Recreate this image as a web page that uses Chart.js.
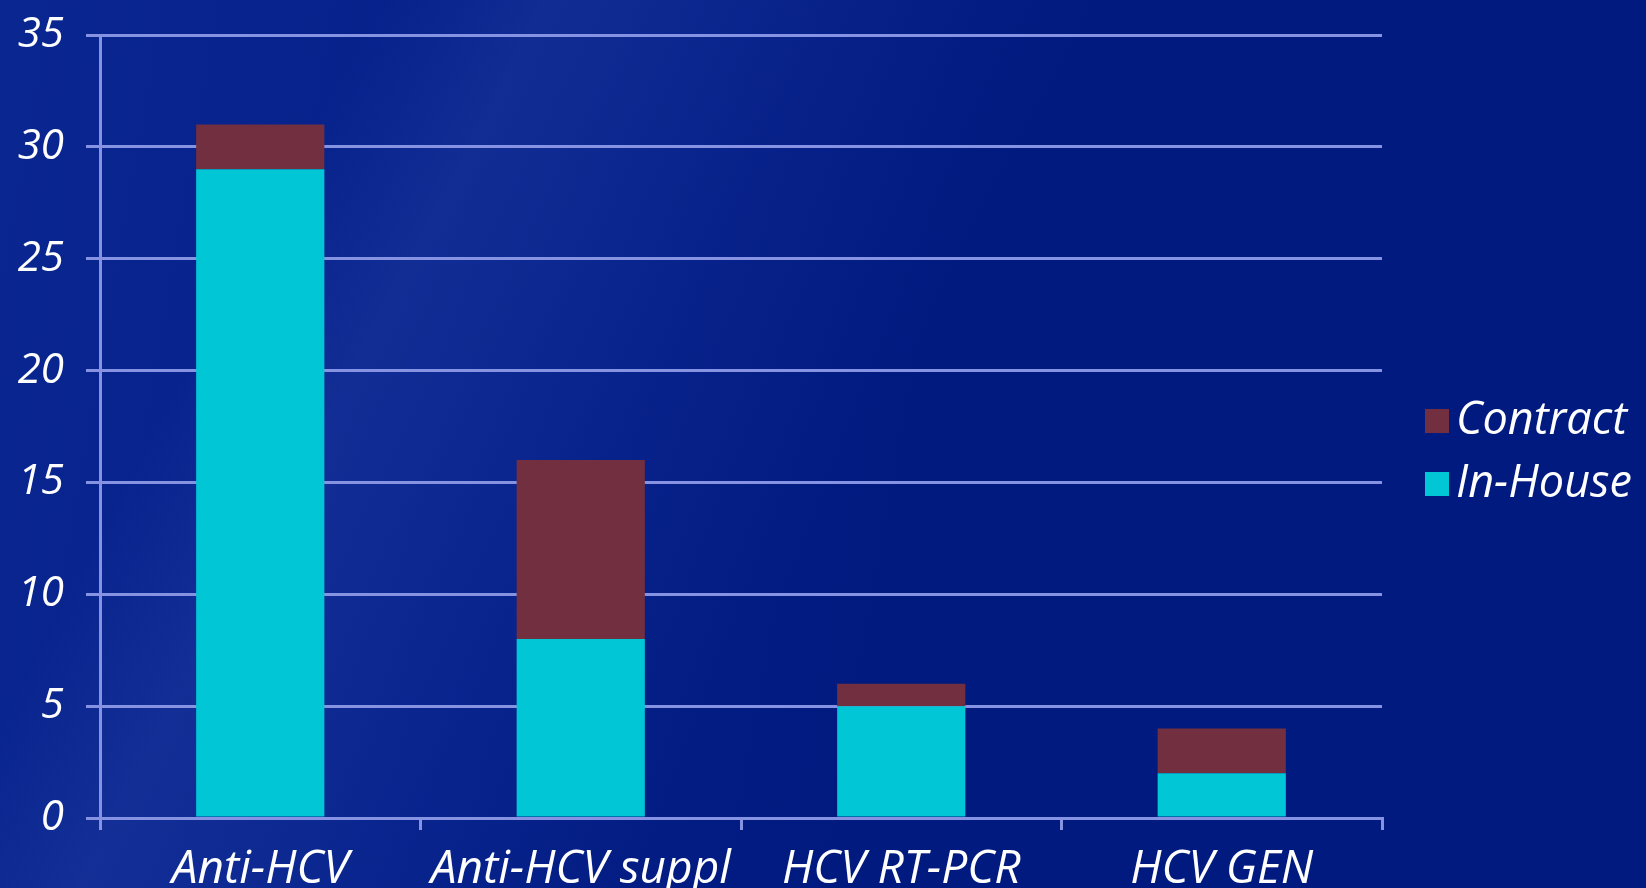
<!DOCTYPE html>
<html>
<head>
<meta charset="utf-8">
<script src="https://cdn.jsdelivr.net/npm/chart.js@4/dist/chart.umd.min.js"></script>
<style>
  html, body { margin: 0; padding: 0; width: 1646px; height: 888px; overflow: hidden; }
  body {
    background:
      linear-gradient(118deg, rgba(30,60,170,0) 0%, rgba(30,60,170,0.0) 18%, rgba(40,70,170,0.35) 26%, rgba(30,60,170,0.15) 40%, rgba(30,60,170,0) 52%),
      linear-gradient(100deg, #0a2690 0%, #06218a 25%, #011a80 55%, #011a80 100%);
  }
  #wrap { position: absolute; left: 0; top: 0; width: 1646px; height: 888px; }
</style>
</head>
<body>
<div id="wrap"><canvas id="c" width="1646" height="888"></canvas></div>
<script>
const categories = ["Anti-HCV", "Anti-HCV suppl", "HCV RT-PCR", "HCV GEN"];
const inHouse = [29, 8, 5, 2];
const contract = [2, 8, 1, 2];
const yTicks = [0, 5, 10, 15, 20, 25, 30, 35];

const FONT = "'Open Sans', 'DejaVu Sans', sans-serif";
const GRID = "#8593e2";
const CYAN = "#00c6d6";
const MAROON = "#722f40";

const legendPlugin = {
  id: 'customLegend',
  afterDraw(chart) {
    const ctx = chart.ctx;
    const items = [
      { label: chart.data.datasets[1].label, color: chart.data.datasets[1].backgroundColor, y: 421 },
      { label: chart.data.datasets[0].label, color: chart.data.datasets[0].backgroundColor, y: 484 }
    ];
    ctx.save();
    ctx.font = "italic 45px " + FONT;
    ctx.textBaseline = 'middle';
    items.forEach(it => {
      ctx.fillStyle = it.color;
      ctx.fillRect(1425, it.y - 12, 24, 24);
      ctx.fillStyle = '#ffffff';
      ctx.fillText(it.label, 1456, it.y);
    });
    ctx.restore();
  }
};

new Chart(document.getElementById('c'), {
  type: 'bar',
  data: {
    labels: categories,
    datasets: [
      { label: 'In-House', data: inHouse, backgroundColor: CYAN, borderWidth: 0 },
      { label: 'Contract', data: contract, backgroundColor: MAROON, borderWidth: 0 }
    ]
  },
  options: {
    responsive: false,
    animation: false,
    layout: { padding: { left: 0, right: 264, top: 35, bottom: 0 } },
    plugins: { legend: { display: false }, tooltip: { enabled: false } },
    datasets: { bar: { categoryPercentage: 0.8, barPercentage: 0.5 } },
    scales: {
      x: {
        stacked: true,
        grid: { display: true, drawOnChartArea: false, drawTicks: true, tickLength: 12, color: GRID, lineWidth: 3, offset: true },
        border: { display: true, color: GRID, width: 3 },
        ticks: { color: '#ffffff', font: { family: FONT, size: 46, style: 'italic' }, padding: 12, maxRotation: 0 },
        afterFit(scale) { scale.height = 70; scale.paddingLeft = 0; scale.paddingRight = 0; }
      },
      y: {
        stacked: true,
        min: 0, max: 35,
        afterBuildTicks(scale) { scale.ticks = yTicks.map(v => ({ value: v })); },
        grid: { color: GRID, lineWidth: 3, tickLength: 14, drawTicks: true },
        border: { display: true, color: GRID, width: 3 },
        ticks: { color: '#ffffff', font: { family: FONT, size: 42, style: 'italic' }, padding: 22 },
        afterFit(scale) { scale.width = 100; scale.paddingTop = 0; scale.paddingBottom = 0; }
      }
    }
  },
  plugins: [legendPlugin]
});
</script>
</body>
</html>
